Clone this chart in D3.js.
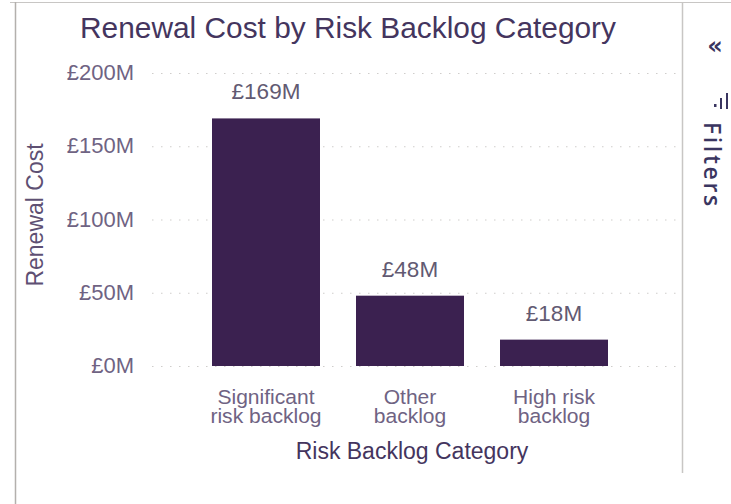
<!DOCTYPE html>
<html><head><meta charset="utf-8">
<script src="https://cdn.jsdelivr.net/npm/d3@7"></script>
<style>html,body{margin:0;padding:0;background:#fff;}svg{display:block;}</style>
</head><body>
<svg id="c" width="731" height="504"></svg>
<script>
const categories = ["Significant risk backlog", "Other backlog", "High risk backlog"];
const categoryLines = [["Significant", "risk backlog"], ["Other", "backlog"], ["High risk", "backlog"]];
const values = [169, 48, 18];
const valueLabels = ["£169M", "£48M", "£18M"];
const yTicks = [0, 50, 100, 150, 200];

const svg = d3.select("#c");
const font = "'Liberation Sans', Arial, sans-serif";

// frame lines
svg.append("line").attr("x1", 10).attr("x2", 731).attr("y1", 2.5).attr("y2", 2.5).attr("stroke", "#c8c6c4").attr("stroke-width", 1);
svg.append("line").attr("x1", 15.5).attr("x2", 15.5).attr("y1", 2).attr("y2", 504).attr("stroke", "#b3b0ad").attr("stroke-width", 1.5);
svg.append("line").attr("x1", 682.5).attr("x2", 682.5).attr("y1", 3).attr("y2", 473).attr("stroke", "#c8c6c4").attr("stroke-width", 1.5);

// title
svg.append("text").attr("x", 348).attr("y", 38).attr("text-anchor", "middle")
  .attr("font-family", font).attr("font-size", 29).attr("fill", "#44355e")
  .attr("transform", "translate(348,0) scale(1.03,1) translate(-348,0)")
  .text("Renewal Cost by Risk Backlog Category");

const y = d3.scaleLinear().domain([0, 200]).range([366, 73]);
const x = d3.scaleBand().domain(categories).range([194, 626]).paddingInner(0.25).paddingOuter(0.125);

// gridlines
svg.append("g").selectAll("line").data(yTicks).join("line")
  .attr("x1", 152).attr("x2", 676)
  .attr("y1", d => y(d) + 0.5).attr("y2", d => y(d) + 0.5)
  .attr("stroke", "#cfcdcb").attr("stroke-width", 1.2).attr("stroke-dasharray", "1.5,7.5");

// y axis
const yAxis = d3.axisLeft(y).tickValues(yTicks).tickSize(0).tickPadding(0).tickFormat(d => "£" + d + "M");
const gy = svg.append("g").attr("transform", "translate(134,0)").call(yAxis);
gy.select(".domain").remove();
gy.selectAll("text").attr("font-family", font).attr("font-size", 22).attr("fill", "#6f6383").attr("dy", "0.3em");

// y title
svg.append("text").attr("transform", "translate(43,215) rotate(-90)").attr("text-anchor", "middle")
  .attr("font-family", font).attr("font-size", 23).attr("fill", "#5e5073").text("Renewal Cost");

// bars
svg.append("g").selectAll("rect").data(values).join("rect")
  .attr("x", (d, i) => x(categories[i])).attr("width", x.bandwidth())
  .attr("y", d => y(d)).attr("height", d => y(0) - y(d))
  .attr("fill", "#3b2150");

// data labels
svg.append("g").selectAll("text").data(values).join("text")
  .attr("x", (d, i) => x(categories[i]) + x.bandwidth() / 2)
  .attr("y", d => y(d) - 19).attr("text-anchor", "middle")
  .attr("font-family", font).attr("font-size", 22.5).attr("fill", "#625a72")
  .text((d, i) => valueLabels[i]);

// x axis
const xAxis = d3.axisBottom(x).tickSize(0).tickFormat("");
const gx = svg.append("g").attr("transform", "translate(0,366)").call(xAxis);
gx.select(".domain").remove();
gx.selectAll(".tick").each(function(d, i) {
  const g = d3.select(this);
  categoryLines[i].forEach((ln, j) => g.append("text").attr("text-anchor", "middle")
    .attr("font-family", font).attr("font-size", 19.5).attr("fill", "#6f6383")
    .attr("transform", "scale(1.08,1)")
    .attr("x", 0).attr("y", 38 + j * 19.5).text(ln));
});

// x title
svg.append("text").attr("x", 412).attr("y", 459).attr("text-anchor", "middle")
  .attr("font-family", font).attr("font-size", 23).attr("fill", "#44355e").text("Risk Backlog Category");

// filters pane
svg.append("text").attr("x", 715).attr("y", 54).attr("text-anchor", "middle")
  .attr("font-family", "'DejaVu Sans', sans-serif").attr("font-weight", "bold").attr("font-size", 24).attr("fill", "#3a3560").text("«");
const fi = svg.append("g").attr("fill", "#3a3560");
fi.append("rect").attr("x", 726).attr("y", 93).attr("width", 2).attr("height", 16);
fi.append("rect").attr("x", 720).attr("y", 98).attr("width", 2).attr("height", 11);
fi.append("rect").attr("x", 714).attr("y", 104).attr("width", 2.5).attr("height", 3);
svg.append("text").attr("transform", "translate(704,122) rotate(90)")
  .attr("font-family", "'Open Sans', 'DejaVu Sans', sans-serif").attr("font-weight", 600).attr("font-size", 23)
  .attr("letter-spacing", 2.6).attr("fill", "#3a3560").text("Filters");
</script>
</body></html>
